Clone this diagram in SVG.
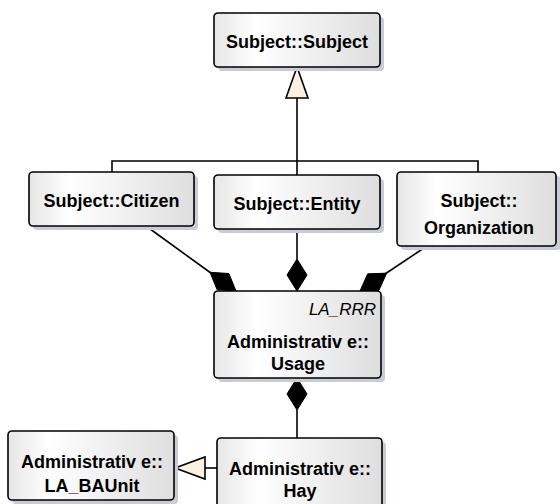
<svg xmlns="http://www.w3.org/2000/svg" width="560" height="504" viewBox="0 0 560 504">
<defs>
<linearGradient id="g" x1="0" y1="0" x2="1" y2="0">
<stop offset="0" stop-color="#e6e6e6"/>
<stop offset="0.25" stop-color="#ffffff"/>
<stop offset="1" stop-color="#dedede"/>
</linearGradient>
<style>
.sh{fill:#c9ccd4}
.bx{fill:url(#g);stroke:#000;stroke-width:1.6}
.t{font-family:"Liberation Sans",Arial,sans-serif;font-weight:bold;font-size:18px;text-anchor:middle;fill:#000}
.st{font-family:"Liberation Sans",Arial,sans-serif;font-style:italic;font-size:17px;text-anchor:end;fill:#000}
.ln{fill:none;stroke:#000;stroke-width:1.6}
.dm{fill:#000;stroke:#000;stroke-width:1}
.tr{fill:#fcf1e1;stroke:#000;stroke-width:1.6}
</style>
</defs>
<rect width="560" height="504" fill="#fff"/>
<g id="connectors">
<path class="ln" d="M297,98 V161 M112,172 V161 H478 V172 M297,161 V175"/>
<polygon class="tr" points="297,67 286,98 308,98"/>
<path class="ln" d="M146,226 L215,276"/>
<polygon class="dm" points="236,291 217.1,289.7 210,272.3 228.9,273.5"/>
<path class="ln" d="M297,229 V259"/>
<polygon class="dm" points="297,291 287,275 297,259 307,275"/>
<path class="ln" d="M427,246 L382,276"/>
<polygon class="dm" points="360,291 378.9,290.4 386.6,273.2 367.7,273.8"/>
<path class="ln" d="M297,410 V438"/>
<polygon class="dm" points="297,378 307,394 297,410 287,394"/>
<path class="ln" d="M217,468 H205"/>
<polygon class="tr" points="175,468 205,457 205,479"/>
</g>
<g id="subject">
<rect class="sh" x="218" y="17" width="166" height="54" rx="4"/>
<rect class="bx" x="214" y="13" width="166" height="54" rx="4"/>
<text class="t" x="297" y="48">Subject::Subject</text>
</g>
<g id="citizen">
<rect class="sh" x="33" y="176" width="165" height="54" rx="4"/>
<rect class="bx" x="29" y="172" width="165" height="54" rx="4"/>
<text class="t" x="111.5" y="207">Subject::Citizen</text>
</g>
<g id="entity">
<rect class="sh" x="218" y="179" width="166" height="54" rx="4"/>
<rect class="bx" x="214" y="175" width="166" height="54" rx="4"/>
<text class="t" x="297" y="210">Subject::Entity</text>
</g>
<g id="organization">
<rect class="sh" x="401" y="176" width="160" height="74" rx="4"/>
<rect class="bx" x="397" y="172" width="159" height="74" rx="4"/>
<text class="t" x="479" y="207">Subject::</text>
<text class="t" x="479" y="234">Organization</text>
</g>
<g id="usage">
<rect class="sh" x="218" y="295" width="167" height="87" rx="4"/>
<rect class="bx" x="214" y="291" width="167" height="87" rx="4"/>
<text class="st" x="376" y="315">LA_RRR</text>
<text class="t" x="298" y="348">Administrativ e::</text>
<text class="t" x="298" y="370">Usage</text>
</g>
<g id="baunit">
<rect class="sh" x="12" y="435" width="166" height="69" rx="4"/>
<rect class="bx" x="8" y="431" width="166" height="69" rx="4"/>
<text class="t" x="92" y="468">Administrativ e::</text>
<text class="t" x="92" y="492">LA_BAUnit</text>
</g>
<g id="hay">
<rect class="sh" x="221" y="442" width="165" height="72" rx="4"/>
<rect class="bx" x="217" y="438" width="165" height="72" rx="4"/>
<text class="t" x="300" y="475">Administrativ e::</text>
<text class="t" x="300" y="497">Hay</text>
</g>
</svg>
